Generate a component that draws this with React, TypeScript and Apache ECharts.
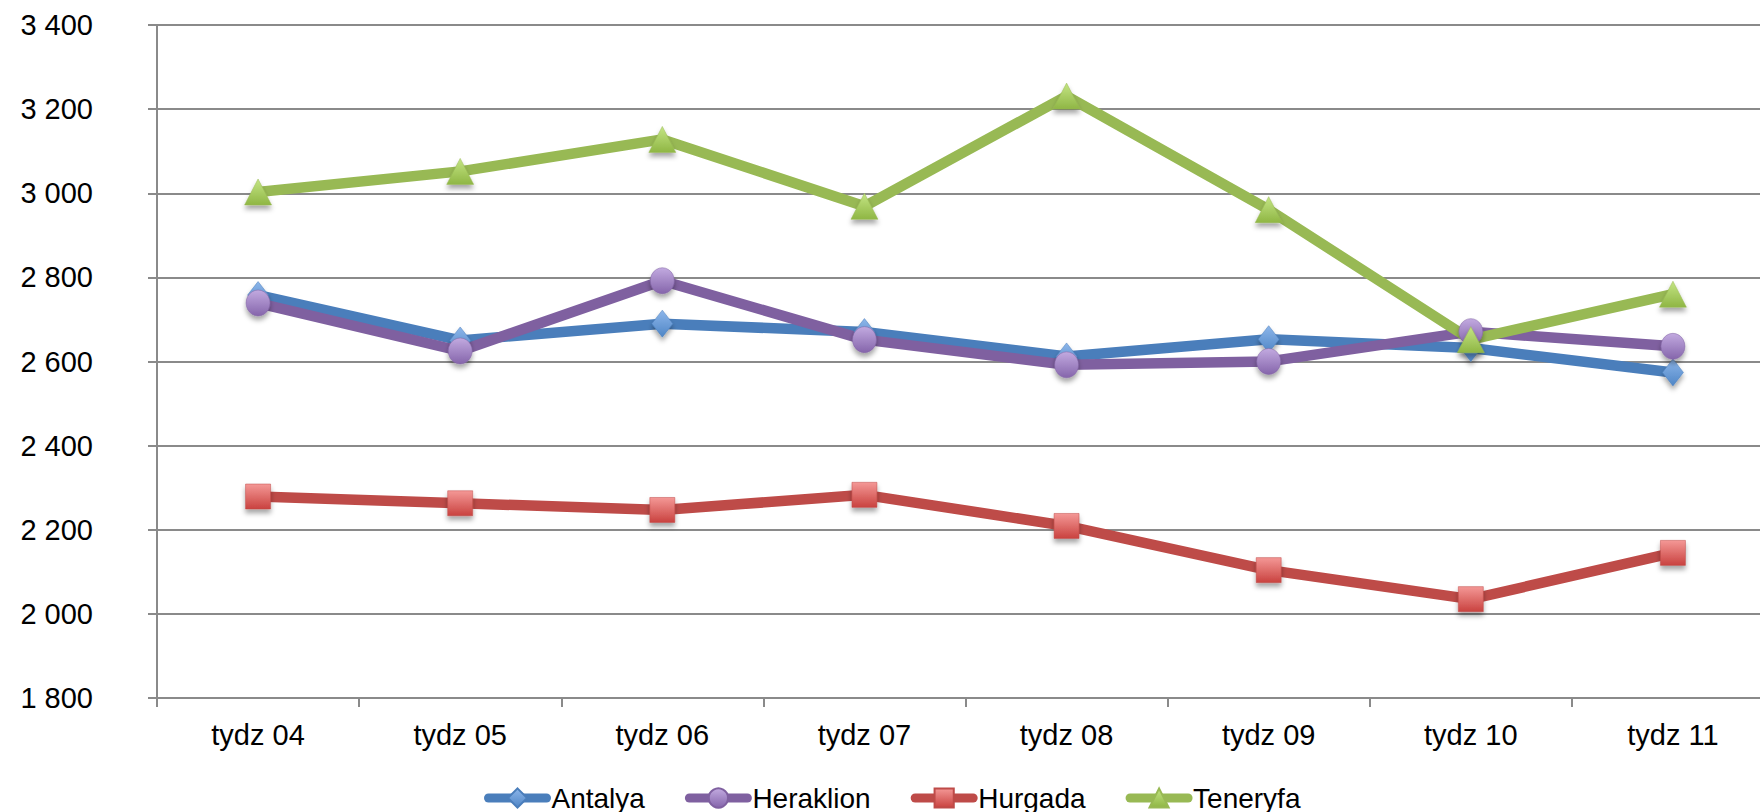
import React, { useEffect, useRef } from "react";
import * as echarts from "echarts";

const categories = ["tydz 04", "tydz 05", "tydz 06", "tydz 07", "tydz 08", "tydz 09", "tydz 10", "tydz 11"];
const antalya = [2758, 2650, 2690, 2670, 2612, 2653, 2632, 2574];
const heraklion = [2739, 2625, 2792, 2652, 2592, 2600, 2671, 2636];
const hurgada = [2279, 2263, 2247, 2283, 2209, 2104, 2035, 2145];
const teneryfa = [3003, 3052, 3128, 2969, 3231, 2961, 2652, 2760];
const yMin = 1800;
const yMax = 3400;
const yStep = 200;

const FONT = "'Liberation Sans', Arial, sans-serif";

function grad(top: string, bottom: string) {
  return new echarts.graphic.LinearGradient(0, 0, 0, 1, [
    { offset: 0, color: top },
    { offset: 1, color: bottom },
  ]);
}

function makeSeries(name: string, data: number[], lineColor: string, mTop: string, mBot: string, symbol: string, size: number | number[]) {
  return {
    name,
    type: "line",
    data,
    symbol,
    symbolSize: size,
    showSymbol: true,
    lineStyle: { color: lineColor, width: 10.5, join: "round", cap: "round" },
    itemStyle: {
      color: grad(mTop, mBot),
      borderColor: lineColor,
      borderWidth: 0.5,
      shadowColor: "rgba(0,0,0,0.35)",
      shadowBlur: 5,
      shadowOffsetY: 4,
    },
    emphasis: { disabled: true },
  };
}

export default function App() {
  const ref = useRef<HTMLDivElement>(null);
  useEffect(() => {
    if (!ref.current) return;
    const chart = echarts.init(ref.current, undefined, { renderer: "svg" });
    chart.setOption({
      animation: false,
      backgroundColor: "#ffffff",
      textStyle: { fontFamily: FONT },
      grid: { left: 157, top: 25, right: 0, bottom: 114 },
      legend: {
        top: 779,
        left: 479,
        itemWidth: 58,
        itemHeight: 24,
        itemGap: 40,
        lineStyle: { width: 9, cap: "round" },
        textStyle: { fontSize: 28, color: "#000", fontFamily: FONT },
        data: ["Antalya", "Heraklion", "Hurgada", "Teneryfa"],
      },
      xAxis: {
        type: "category",
        data: categories,
        boundaryGap: true,
        axisLine: { lineStyle: { color: "#8a8a8a", width: 2 } },
        axisTick: { show: true, length: 9, lineStyle: { color: "#8a8a8a", width: 2 } },
        axisLabel: { fontSize: 29, color: "#000", margin: 22, fontFamily: FONT, interval: 0 },
        splitLine: { show: false },
      },
      yAxis: {
        type: "value",
        min: yMin,
        max: yMax,
        interval: yStep,
        axisLine: { show: true, lineStyle: { color: "#8a8a8a", width: 2 } },
        axisTick: { show: true, length: 9, lineStyle: { color: "#8a8a8a", width: 2 } },
        axisLabel: {
          fontSize: 29,
          color: "#000",
          margin: 64,
          fontFamily: FONT,
          formatter: (v: number) => {
            const s = String(Math.round(v));
            return s.replace(/\B(?=(\d{3})+(?!\d))/g, " ");
          },
        },
        splitLine: { show: true, lineStyle: { color: "#8a8a8a", width: 2 } },
      },
      series: [
        makeSeries("Antalya", antalya, "#4a7ebb", "#8db6ea", "#4f86c6", "diamond", [21, 27]),
        makeSeries("Heraklion", heraklion, "#7f60a0", "#c2aae0", "#8565ab", "circle", [24, 26]),
        makeSeries("Hurgada", hurgada, "#be4b48", "#f49896", "#c9423f", "rect", [25, 25]),
        makeSeries("Teneryfa", teneryfa, "#98b954", "#c4e584", "#8fb644", "triangle", [27, 26]),
      ],
    });
    return () => chart.dispose();
  }, []);
  return (
    <div style={{ position: "fixed", left: 0, top: 0, width: 1760, height: 812, overflow: "hidden", background: "#fff" }}>
      <div ref={ref} style={{ position: "absolute", left: 0, top: 0, width: 1774, height: 812 }} />
    </div>
  );
}
